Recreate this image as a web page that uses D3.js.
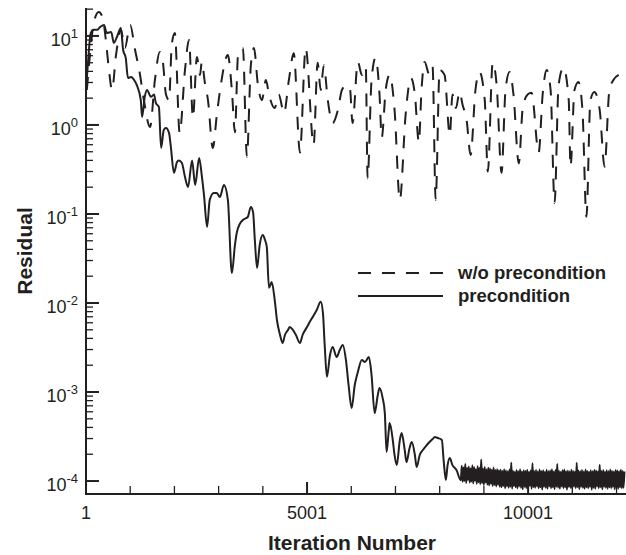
<!DOCTYPE html>
<html>
<head>
<meta charset="utf-8">
<script src="https://cdn.jsdelivr.net/npm/d3@7"></script>
<style>
  body { margin: 0; background: #fff; }
  text { font-family: "Liberation Sans", Arial, sans-serif; fill: #231f20; }
</style>
</head>
<body>
<div id="chart"></div>
<script>
// w/o precondition (dashed)
const plainIter = [20, 90, 180, 290, 380, 450, 520, 590, 680, 790,
  880, 1000, 1110, 1220, 1310, 1450, 1560, 1670, 1740, 1810,
  1880, 1940, 2010, 2120, 2240, 2330, 2420, 2510, 2580, 2620,
  2690, 2760, 2870, 2960, 3050, 3210, 3300, 3370, 3440, 3550,
  3640, 3730, 3800, 3890, 3980, 4070, 4140, 4270, 4360, 4480,
  4590, 4700, 4840, 4970, 5150, 5240, 5310, 5380, 5470, 5580,
  5700, 5790, 5900, 5970, 6030, 6150, 6240, 6330, 6370, 6460,
  6550, 6640, 6690, 6780, 6870, 6980, 7100, 7230, 7350, 7440,
  7530, 7590, 7660, 7770, 7840, 7910, 8000, 8110, 8230, 8290,
  8370, 8450, 8520, 8610, 8700, 8810, 8900, 9020, 9090, 9200,
  9290, 9400, 9490, 9580, 9670, 9790, 9880, 9990, 10080, 10240,
  10330, 10420, 10510, 10600, 10690, 10800, 10920, 10960, 11050, 11140,
  11230, 11320, 11410, 11500, 11620, 11730, 11840, 11930, 12050]
const plainResidual = [2.47, 6.1, 14.4, 18.6, 15.9, 9.0, 4.15, 2.47, 6.1, 11.7,
  7.3, 13.3, 7.0, 3.74, 1.9, 0.95, 3.2, 6.6, 5.1, 2.2,
  1.9, 7.9, 10.8, 0.81, 4.15, 9.0, 1.2, 5.8, 3.65, 5.1,
  2.97, 1.9, 0.55, 1.3, 2.8, 6.1, 2.47, 0.83, 6.1, 7.3,
  0.44, 4.7, 7.3, 2.8, 1.9, 3.2, 2.2, 1.55, 2.2, 1.36,
  3.2, 6.4, 0.49, 7.3, 0.6, 5.0, 2.47, 4.7, 1.9, 1.05,
  1.48, 2.47, 2.8, 2.6, 1.05, 5.1, 3.65, 4.5, 0.25, 3.2,
  5.7, 2.2, 0.72, 2.47, 3.65, 1.48, 0.144, 1.3, 3.37, 2.2,
  0.64, 2.47, 5.1, 3.65, 4.5, 0.144, 4.15, 3.65, 0.77, 2.2,
  1.55, 2.35, 1.68, 1.14, 0.46, 2.47, 3.94, 1.9, 0.3, 5.0,
  2.8, 0.29, 2.47, 3.94, 2.2, 0.37, 1.55, 2.2, 2.3, 0.49,
  2.2, 4.15, 2.47, 0.133, 2.8, 4.4, 1.9, 0.34, 2.47, 3.04,
  1.48, 0.093, 1.9, 2.35, 1.48, 0.34, 2.47, 3.2, 3.65]

// precondition (solid)
const precIter = [1, 50, 110, 180, 250, 320, 410, 470, 570, 630,
  700, 790, 840, 900, 950, 1020, 1090, 1150, 1240, 1270,
  1330, 1380, 1470, 1540, 1580, 1650, 1700, 1760, 1810, 1880,
  1920, 1990, 2060, 2100, 2170, 2240, 2310, 2400, 2470, 2560,
  2620, 2670, 2740, 2800, 2890, 2960, 3030, 3120, 3210,
  3300, 3370, 3410, 3480, 3550, 3660, 3730, 3780, 3820, 3870,
  3930, 4000, 4050, 4090, 4140, 4200, 4270, 4320, 4390, 4450,
  4500, 4570, 4610, 4680, 4750, 4840, 4900, 5000, 5060, 5130,
  5220, 5310, 5360, 5400, 5450, 5520, 5580, 5670, 5740, 5810,
  5880, 5940, 6010, 6080, 6150, 6240, 6310, 6400, 6460, 6530,
  6600, 6640, 6710, 6760, 6800, 6850, 6870, 6940, 6980, 7030,
  7100, 7140, 7210, 7250, 7320, 7370, 7440, 7480, 7550, 7620,
  7710, 7770, 7840, 7890, 7960, 8050, 8090, 8140, 8180, 8230,
  8290, 8380]
const precResidual = [2.47, 5.37, 10.8, 11.7, 11.7, 12.6, 13.3, 10.8, 11.1, 8.34,
  9.74, 12.3, 7.0, 5.66, 3.37, 3.46, 3.2, 2.8, 1.9, 1.23,
  2.07, 2.47, 2.07, 2.2, 1.77, 1.59, 0.552, 0.88, 0.925, 0.81,
  0.566, 0.29, 0.384, 0.40, 0.374, 0.26, 0.201, 0.40, 0.212, 0.426,
  0.27, 0.163, 0.0714, 0.144, 0.172, 0.172, 0.155, 0.212, 0.144,
  0.0217, 0.0449, 0.0612, 0.0773, 0.0857, 0.0925, 0.12, 0.105, 0.051, 0.0247,
  0.0449, 0.058, 0.051, 0.0426, 0.0148, 0.0172, 0.0108, 0.00644, 0.00437, 0.00355,
  0.00437, 0.00498, 0.00537, 0.00498, 0.00437, 0.00355, 0.00437, 0.00537, 0.00612, 0.00697,
  0.00834, 0.0103, 0.00773, 0.00337, 0.00148, 0.0026, 0.0032, 0.00247, 0.00296, 0.00337,
  0.00229, 0.0012, 0.00066, 0.0012, 0.00168, 0.00229, 0.00217, 0.00247, 0.00155, 0.00058,
  0.00092, 0.00111, 0.00086, 0.00058, 0.000212, 0.000374, 0.000449, 0.000289, 0.000196, 0.000151,
  0.000289, 0.000346, 0.000223, 0.000163, 0.000235, 0.000274, 0.000196, 0.000144, 0.000196, 0.000223,
  0.000254, 0.000274, 0.000296, 0.000312, 0.000304, 0.000289, 0.000172, 0.000103, 0.000151, 0.000181,
  0.000151, 0.000133]

// precondition tail: residual (x 1e-4) sampled every 20 iterations from 8480
const tailStart = 8480
const tailStep = 20
const tailResidual = [1.02, 1.48, 0.98, 1.42, 1.00, 1.55, 0.95, 1.40, 1.03, 1.46,
  0.96, 1.38, 0.99, 1.50, 0.94, 1.43, 1.01, 1.36, 0.93, 1.47,
  0.97, 1.40, 0.92, 1.75, 0.95, 1.37, 0.90, 1.44, 0.96, 1.35,
  0.91, 1.41, 0.89, 1.38, 0.93, 1.34, 0.88, 1.42, 0.90, 1.33,
  0.87, 1.36, 0.91, 1.32, 0.86,
  1.34, 0.85, 1.30, 0.88, 1.36, 0.83, 1.31, 0.87, 1.29, 0.84,
  1.35, 0.86, 1.62, 0.82, 1.30, 0.88, 1.27, 0.85, 1.33, 0.83,
  1.29, 0.87, 1.36, 0.84, 1.28, 0.81, 1.32, 0.86, 1.30, 0.83,
  1.34, 0.85, 1.27, 0.88, 1.31, 0.82, 1.58, 0.85, 1.29, 0.84,
  1.33, 0.87, 1.28, 0.83, 1.35, 0.85, 1.30, 0.80, 1.32, 0.86,
  1.27, 0.84, 1.34, 0.82, 1.29, 0.87, 1.31, 0.83, 1.36, 0.85,
  1.28, 0.81, 1.33, 0.86, 1.55, 0.84, 1.30, 0.82, 1.27, 0.87,
  1.32, 0.83, 1.35, 0.85, 1.29, 0.80, 1.31, 0.86, 1.28, 0.84,
  1.34, 0.82, 1.30, 0.87, 1.27, 0.83, 1.60, 0.85, 1.31, 0.81,
  1.29, 0.86, 1.33, 0.84, 1.28, 0.82, 1.35, 0.85, 1.30, 0.83,
  1.27, 0.86, 1.32, 0.80, 1.29, 0.84, 1.34, 0.82, 1.31, 0.87,
  1.28, 0.83, 1.52, 0.85, 1.30, 0.81, 1.33, 0.86, 1.27, 0.84,
  1.32, 0.82, 1.29, 0.85, 1.35, 0.83, 1.30, 0.86, 1.28, 0.81,
  1.33, 0.84, 1.31, 0.82, 1.29, 0.85, 1.34, 0.83, 1.30, 0.84,
  1.28]

const xMajorTicks = [1, 5001, 10001]
const xMinorTicks = [1001, 2001, 3001, 4001, 6001, 7001, 8001, 9001, 11001, 12001]
const yExponents = [-4, -3, -2, -1, 0, 1]
const legendLabels = ["w/o precondition", "precondition"]

class ResidualChart {
    constructor(_config){
        this.config = {
            parentElement: _config.parentElement,
            containerWidth: _config.containerWidth || 626,
            containerHeight: _config.containerHeight || 555,
            xDomain: _config.xDomain,
            yDomain: _config.yDomain
        }
        this.initVis()
    }

    initVis(){
        let vis = this
        vis.svg = d3.select(vis.config.parentElement).append("svg")
            .attr("width", vis.config.containerWidth)
            .attr("height", vis.config.containerHeight)

        vis.x = d3.scaleLinear().domain(vis.config.xDomain).range([86, 624])
        vis.y = d3.scaleLog().domain(vis.config.yDomain).range([494, 8])

        vis.svg.append("clipPath").attr("id", "plotClip")
          .append("rect")
            .attr("x", 86).attr("y", 0)
            .attr("width", 540).attr("height", 494)

        vis.drawAxes()
        vis.drawLines()
        vis.drawLegend()
    }

    drawAxes(){
        let vis = this
        let ink = "#231f20"
        let g = vis.svg.append("g")

        // minor y ticks: 2..9 in each decade
        let yMinor = []
        yExponents.forEach(e => {
            for (let k = 2; k <= 9; k++) {
                let v = k * Math.pow(10, e)
                if (v <= vis.config.yDomain[1]) yMinor.push(v)
            }
        })
        g.selectAll(".yminor").data(yMinor).enter().append("line")
            .attr("x1", 86).attr("x2", 93)
            .attr("y1", d => vis.y(d)).attr("y2", d => vis.y(d))
            .attr("stroke", ink).attr("stroke-width", 1.3)

        g.selectAll(".ymajor").data(yExponents).enter().append("line")
            .attr("x1", 86).attr("x2", 99)
            .attr("y1", d => vis.y(Math.pow(10, d))).attr("y2", d => vis.y(Math.pow(10, d)))
            .attr("stroke", ink).attr("stroke-width", 2)

        g.selectAll(".ylabel").data(yExponents).enter().append("text")
            .attr("x", 78)
            .attr("y", d => vis.y(Math.pow(10, d)) + 10)
            .attr("text-anchor", "end")
            .style("font-size", "18px")
            .each(function(d) {
                d3.select(this).append("tspan").text("10")
                d3.select(this).append("tspan")
                    .attr("dy", -8)
                    .style("font-size", "13px")
                    .text(d)
            })

        g.selectAll(".xminor").data(xMinorTicks).enter().append("line")
            .attr("x1", d => vis.x(d)).attr("x2", d => vis.x(d))
            .attr("y1", 494).attr("y2", 486)
            .attr("stroke", ink).attr("stroke-width", 1.3)

        g.selectAll(".xmajor").data(xMajorTicks).enter().append("line")
            .attr("x1", d => vis.x(d)).attr("x2", d => vis.x(d))
            .attr("y1", 494).attr("y2", 482)
            .attr("stroke", ink).attr("stroke-width", 2)

        g.selectAll(".xlabel").data(xMajorTicks).enter().append("text")
            .attr("x", d => vis.x(d))
            .attr("y", 519)
            .attr("text-anchor", "middle")
            .style("font-size", "18px")
            .text(d => d)

        // spines
        g.append("line").attr("x1", 86).attr("x2", 86).attr("y1", 8).attr("y2", 495)
            .attr("stroke", ink).attr("stroke-width", 2)
        g.append("line").attr("x1", 85).attr("x2", 626).attr("y1", 494).attr("y2", 494)
            .attr("stroke", ink).attr("stroke-width", 2)

        vis.svg.append("text")
            .attr("x", 352).attr("y", 550)
            .attr("text-anchor", "middle")
            .style("font-size", "21px").style("font-weight", "bold")
            .text("Iteration Number")

        vis.svg.append("text")
            .attr("transform", "translate(32,251) rotate(-90)")
            .attr("text-anchor", "middle")
            .style("font-size", "21px").style("font-weight", "bold")
            .text("Residual")
    }

    drawLines(){
        let vis = this
        let line = d3.line()
            .x(d => vis.x(d[0]))
            .y(d => vis.y(d[1]))
            .curve(d3.curveMonotoneX)

        let plain = plainIter.map((it, i) => [it, plainResidual[i]])
        let prec = precIter.map((it, i) => [it, precResidual[i]])
        tailResidual.forEach((r, i) => prec.push([tailStart + i * tailStep, r * 1e-4]))

        let plot = vis.svg.append("g").attr("clip-path", "url(#plotClip)")

        plot.append("path")
            .datum(plain)
            .attr("d", line)
            .attr("fill", "none")
            .attr("stroke", "#231f20")
            .attr("stroke-width", 2)
            .attr("stroke-dasharray", "13,11")

        plot.append("path")
            .datum(prec)
            .attr("d", line)
            .attr("fill", "none")
            .attr("stroke", "#231f20")
            .attr("stroke-width", 2)
            .attr("stroke-linejoin", "round")
    }

    drawLegend(){
        let vis = this
        let lg = vis.svg.append("g")
        lg.selectAll("line").data(legendLabels).enter().append("line")
            .attr("x1", 358).attr("x2", 443)
            .attr("y1", (d, i) => 273 + i * 23).attr("y2", (d, i) => 273 + i * 23)
            .attr("stroke", "#231f20").attr("stroke-width", 2)
            .attr("stroke-dasharray", (d, i) => i == 0 ? "13,11" : null)
        lg.selectAll("text").data(legendLabels).enter().append("text")
            .attr("x", 458)
            .attr("y", (d, i) => 279 + i * 23)
            .style("font-size", "18.5px").style("font-weight", "bold")
            .text(d => d)
    }
}

new ResidualChart({
    parentElement: "#chart",
    xDomain: [1, 12170],
    yDomain: [7.15e-5, 20.6]
})
</script>
</body>
</html>
